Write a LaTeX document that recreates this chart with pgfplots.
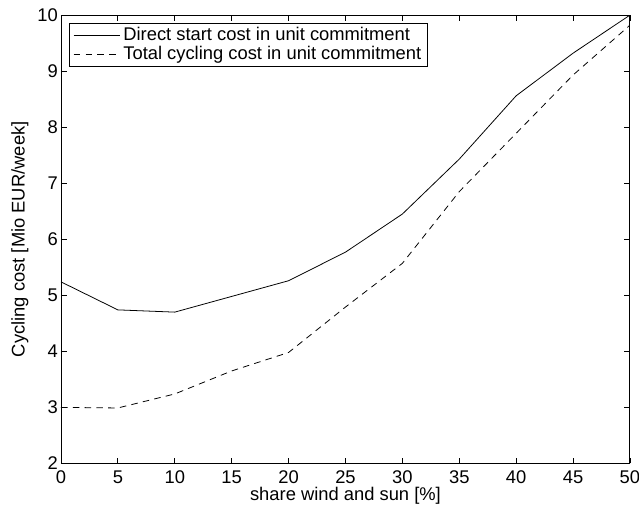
\documentclass[border=0pt]{standalone}
\usepackage{fontspec}
\setmainfont{Liberation Sans}
\usepackage{pgfplots}
\pgfplotsset{compat=1.18}
\begin{document}
\fontsize{14}{16.8}\selectfont
\begin{tikzpicture}
\useasboundingbox (-46.5pt,-36.3pt) rectangle (440.9pt,353.5pt);
\begin{axis}[
  at={(0,0)}, anchor=south west,
  scale only axis,
  width=434pt, height=342pt,
  xmin=0, xmax=50, ymin=2, ymax=10,
  xtick={0,5,...,50}, ytick={2,3,...,10},
  tick align=inside,
  tick pos=both,
  major tick length=4.5pt,
  axis line style={line width=0.7pt},
  every tick/.style={black, line width=0.6pt},
  /pgf/number format/assume math mode=true,
  tick label style={font=\fontsize{14}{16.8}\selectfont},
  xticklabel style={yshift=-0.5pt},
  yticklabel style={xshift=2.5pt},
  label style={font=\fontsize{14}{16.8}\selectfont},
  xlabel={share wind and sun [\%]},
  ylabel={Cycling cost [Mio EUR/week]},
  xlabel style={at={(0.5,0)}, anchor=center, yshift=-24.5pt},
  ylabel style={at={(0,0.5)}, anchor=center, rotate=0, yshift=31.3pt},
  legend style={at={(0.014,0.982)}, anchor=north west, draw=black, line width=0.7pt,
    font=\fontsize{14}{16.8}\selectfont, inner xsep=3pt, inner ysep=1pt,
    row sep=-2pt},
  legend cell align=left,
  legend image code/.code={\draw[#1] (0cm,0cm) -- (1.25cm,0cm);},
]
\addplot[black, line width=0.6pt] coordinates {
(0,5.24) (5,4.74) (10,4.70) (15,4.98) (20,5.26) (25,5.77) (30,6.45) (35,7.43) (40,8.56) (45,9.32) (50,10.0)
};
\addlegendentry{Direct start cost in unit commitment}
\addplot[black, line width=0.6pt, dash pattern=on 5pt off 4pt] coordinates {
(0,3.0) (5,2.99) (10,3.24) (15,3.65) (20,3.98) (25,4.79) (30,5.57) (35,6.85) (40,7.89) (45,8.93) (50,9.82)
};
\addlegendentry{Total cycling cost in unit commitment}
\end{axis}
\end{tikzpicture}
\end{document}
